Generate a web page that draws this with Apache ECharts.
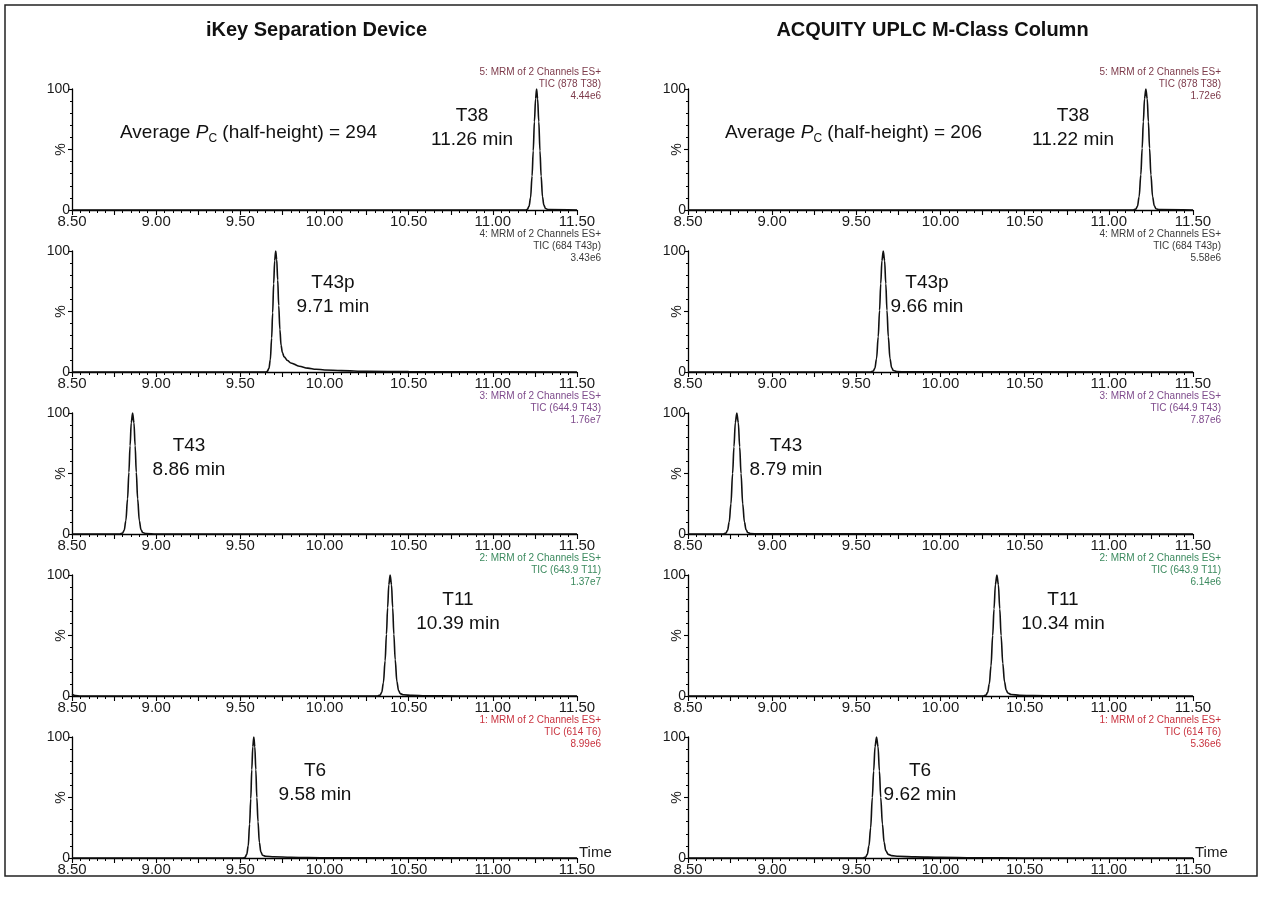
<!DOCTYPE html>
<html>
<head>
<meta charset="utf-8">
<script src="https://cdn.jsdelivr.net/npm/echarts@6/dist/echarts.min.js"></script>
<style>
html,body{margin:0;padding:0;background:#fff;}
#chart{width:1262px;height:902px;}
</style>
</head>
<body>
<div id="chart"></div>
<script>
// ---------- DATA ----------
const panelTitles = ['iKey Separation Device', 'ACQUITY UPLC M-Class Column'];
const xTicks = [8.50, 9.00, 9.50, 10.00, 10.50, 11.00, 11.50];
const pcValues = ['294', '206'];

// channel headers, rows top -> bottom
const channelNames = ['5: MRM of 2 Channels ES+', '4: MRM of 2 Channels ES+', '3: MRM of 2 Channels ES+', '2: MRM of 2 Channels ES+', '1: MRM of 2 Channels ES+'];
const ticNames = ['TIC (878 T38)', 'TIC (684 T43p)', 'TIC (644.9 T43)', 'TIC (643.9 T11)', 'TIC (614 T6)'];
const intensityIKey = ['4.44e6', '3.43e6', '1.76e7', '1.37e7', '8.99e6'];
const intensityMC = ['1.72e6', '5.58e6', '7.87e6', '6.14e6', '5.36e6'];
const peptides = ['T38', 'T43p', 'T43', 'T11', 'T6'];
const rtIKey = ['11.26', '9.71', '8.86', '10.39', '9.58'];
const rtMC = ['11.22', '9.66', '8.79', '10.34', '9.62'];

// chromatogram traces [time (min), %]
const ikeyT38 = [[8.50,0],[11.195,0],[11.205,0.5],[11.215,3],[11.224,10],[11.233,28],[11.24,49],[11.247,73],[11.254,92],[11.26,100],[11.266,92],[11.273,73],[11.28,49],[11.287,28],[11.295,11],[11.303,4],[11.313,1.2],[11.33,0.3],[11.50,0]];
const ikeyT43p = [[8.50,0],[9.65,0],[9.66,0.5],[9.67,3],[9.678,10],[9.686,28],[9.692,49],[9.698,73],[9.704,92],[9.71,100],[9.716,93],[9.722,76],[9.728,55],[9.735,35],[9.742,22],[9.75,16],[9.76,12.5],[9.78,9.5],[9.80,7.5],[9.85,4.8],[9.90,3.2],[9.95,2.3],[10.00,1.7],[10.10,1.1],[10.25,0.6],[10.50,0.3],[10.80,0.1],[11.50,0]];
const ikeyT43 = [[8.50,0],[8.785,0],[8.80,0.7],[8.81,3],[8.82,11],[8.83,29],[8.838,51],[8.845,73],[8.852,92],[8.86,100],[8.868,92],[8.875,73],[8.882,51],[8.89,29],[8.90,11],[8.91,3.5],[8.92,1.2],[8.94,0.3],[9.00,0],[11.50,0]];
const ikeyT11 = [[8.50,1.5],[8.52,0.3],[8.55,0],[10.315,0],[10.33,0.7],[10.34,3],[10.35,11],[10.36,29],[10.368,51],[10.375,73],[10.382,92],[10.39,100],[10.398,92],[10.405,73],[10.412,51],[10.42,30],[10.43,12],[10.44,4.5],[10.45,2],[10.47,1],[10.52,0.5],[10.60,0.2],[10.80,0],[11.50,0]];
const ikeyT6 = [[8.50,0],[9.515,0],[9.528,0.5],[9.538,3],[9.547,10],[9.555,28],[9.562,49],[9.568,73],[9.574,92],[9.58,100],[9.586,92],[9.592,73],[9.598,50],[9.605,30],[9.613,13],[9.622,5],[9.632,2.3],[9.65,1.4],[9.70,1],[9.80,0.6],[9.90,0.3],[10.05,0.1],[11.50,0]];

const mcT38 = [[8.50,0],[11.145,0],[11.16,0.7],[11.17,3],[11.18,11],[11.19,29],[11.198,51],[11.205,73],[11.212,92],[11.22,100],[11.228,92],[11.235,73],[11.242,51],[11.25,29],[11.26,11],[11.27,3.5],[11.28,1],[11.30,0.3],[11.50,0]];
const mcT43p = [[8.50,0],[9.585,0],[9.60,0.7],[9.61,3],[9.62,11],[9.63,29],[9.638,51],[9.645,73],[9.652,92],[9.66,100],[9.668,92],[9.675,73],[9.682,51],[9.69,29],[9.70,11],[9.71,3.5],[9.72,1.2],[9.74,0.4],[9.80,0.1],[11.50,0]];
const mcT43 = [[8.50,0],[8.71,0],[8.725,0.7],[8.735,3],[8.745,10],[8.755,25],[8.765,50],[8.773,72],[8.781,92],[8.79,100],[8.799,92],[8.807,72],[8.815,50],[8.825,25],[8.835,10],[8.845,3.5],[8.855,1.2],[8.87,0.4],[8.92,0.1],[11.50,0]];
const mcT11 = [[8.50,0],[10.255,0],[10.27,0.7],[10.28,3],[10.29,10],[10.30,25],[10.31,50],[10.318,72],[10.326,92],[10.335,100],[10.344,92],[10.352,72],[10.36,50],[10.37,27],[10.38,12],[10.39,5],[10.40,2.5],[10.42,1.2],[10.47,0.6],[10.55,0.3],[10.70,0.1],[11.50,0]];
const mcT6 = [[8.50,0],[9.54,0],[9.555,0.7],[9.565,3],[9.575,10],[9.585,25],[9.595,50],[9.603,72],[9.611,92],[9.62,100],[9.629,92],[9.637,72],[9.645,50],[9.655,28],[9.665,13],[9.675,6],[9.69,3],[9.71,2],[9.75,1.4],[9.85,0.9],[10.00,0.5],[10.20,0.2],[10.50,0],[11.50,0]];

const tracesIKey = [ikeyT38, ikeyT43p, ikeyT43, ikeyT11, ikeyT6];
const tracesMC = [mcT38, mcT43p, mcT43, mcT11, mcT6];

// ---------- LAYOUT / STYLE ----------
const FONT = '"Liberation Sans", Arial, Helvetica, sans-serif';
const rowTop = [89, 251, 413, 575, 737];
const rowH = 121;
const colLeft = [72, 688];
const colW = 505;
const headerRight = [601, 1221];
const headerColors = ['#7d3b4b', '#3a3a3a', '#7e4a8c', '#3b8a5e', '#c9323e'];
// peak label centres [col][row] -> [x, yTopLine]
const peakLabelPos = [
  [[472, 116], [333, 283], [189, 446], [458, 600], [315, 771]],
  [[1073, 116], [927, 283], [786, 446], [1063, 600], [920, 771]]
];
const pcPos = [[120, 133], [725, 133]];

const grids = [], xAxes = [], yAxes = [], series = [], graphics = [];
const allTraces = [tracesIKey, tracesMC];
const allInt = [intensityIKey, intensityMC];
const allRt = [rtIKey, rtMC];

for (let c = 0; c < 2; c++) {
  for (let r = 0; r < 5; r++) {
    const idx = grids.length;
    grids.push({ left: colLeft[c], top: rowTop[r], width: colW, height: rowH });
    xAxes.push({
      type: 'value', gridIndex: idx, min: 8.5, max: 11.5, interval: 0.25,
      axisLine: { lineStyle: { color: '#000', width: 1.3 } },
      axisTick: { length: 5, lineStyle: { color: '#000', width: 1.1 } },
      minorTick: { show: true, splitNumber: 5, length: 3, lineStyle: { color: '#000', width: 1 } },
      splitLine: { show: false },
      axisLabel: {
        fontSize: 15, fontFamily: FONT, color: '#1a1a1a', margin: 4,
        showMinLabel: true, showMaxLabel: true,
        formatter: v => (xTicks.some(t => Math.abs(t - v) < 1e-6) ? v.toFixed(2) : '')
      },
      name: r === 4 ? 'Time' : '', nameLocation: 'end', nameGap: 2,
      nameTextStyle: { fontSize: 15, fontFamily: FONT, color: '#1a1a1a', align: 'left', verticalAlign: 'bottom', padding: [0, 0, -2, 0] }
    });
    yAxes.push({
      type: 'value', gridIndex: idx, min: 0, max: 100, interval: 50,
      axisLine: { show: true, lineStyle: { color: '#000', width: 1.3 } },
      axisTick: { show: true, length: 4, lineStyle: { color: '#000', width: 1.1 } },
      minorTick: { show: true, splitNumber: 5, length: 2, lineStyle: { color: '#000', width: 1 } },
      splitLine: { show: false },
      axisLabel: { fontSize: 14, fontFamily: FONT, color: '#1a1a1a', margin: 2, formatter: v => (v === 50 ? '' : String(v)) }
    });
    series.push({
      type: 'line', xAxisIndex: idx, yAxisIndex: idx, data: allTraces[c][r],
      showSymbol: false, smooth: 0.35, smoothMonotone: 'x', silent: true,
      lineStyle: { color: '#111', width: 1.6 }
    });
    // "%" axis title
    graphics.push({ type: 'text', x: colLeft[c] - 11, y: rowTop[r] + rowH / 2, rotation: Math.PI / 2, silent: true,
      style: { text: '%', fill: '#1a1a1a', font: '14px ' + FONT, align: 'center', verticalAlign: 'middle' } });
    // channel header
    const hy = rowTop[r] - 17;
    [channelNames[r], ticNames[r], allInt[c][r]].forEach((t, k) => {
      graphics.push({ type: 'text', x: headerRight[c], y: hy + k * 12, silent: true,
        style: { text: t, fill: headerColors[r], font: '10px ' + FONT, align: 'right', verticalAlign: 'middle' } });
    });
    // peak label
    const p = peakLabelPos[c][r];
    graphics.push({ type: 'text', x: p[0], y: p[1], silent: true,
      style: { text: peptides[r], fill: '#111', font: '19px ' + FONT, align: 'center', verticalAlign: 'middle' } });
    graphics.push({ type: 'text', x: p[0], y: p[1] + 24, silent: true,
      style: { text: allRt[c][r] + ' min', fill: '#111', font: '19px ' + FONT, align: 'center', verticalAlign: 'middle' } });
  }
  // panel title
  graphics.push({ type: 'text', x: colLeft[c] + colW / 2 - 8, y: 30, silent: true,
    style: { text: panelTitles[c], fill: '#111', font: 'bold 20px ' + FONT, align: 'center', verticalAlign: 'middle' } });
  // average Pc
  graphics.push({ type: 'text', x: pcPos[c][0], y: pcPos[c][1], silent: true,
    style: {
      text: '{a|Average }{p|P}{s|C}{a| (half-height) = ' + pcValues[c] + '}',
      align: 'left', verticalAlign: 'middle',
      rich: {
        a: { fontSize: 19, fontFamily: FONT, fill: '#111', color: '#111' },
        p: { fontSize: 19, fontFamily: FONT, fontStyle: 'italic', fill: '#111', color: '#111' },
        s: { fontSize: 12, fontFamily: FONT, fill: '#111', color: '#111', padding: [12, 0, 0, 0] }
      }
    } });
}
// outer border
graphics.unshift({ type: 'rect', shape: { x: 5, y: 5, width: 1252, height: 871 }, silent: true,
  style: { fill: 'none', stroke: '#222', lineWidth: 1.5 } });

const chart = echarts.init(document.getElementById('chart'), null, { renderer: 'canvas' });
chart.setOption({
  backgroundColor: '#fff',
  animation: false,
  grid: grids, xAxis: xAxes, yAxis: yAxes, series: series,
  graphic: graphics
});
</script>
</body>
</html>
